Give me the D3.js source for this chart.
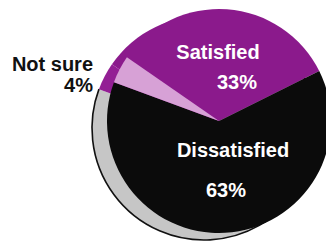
<!DOCTYPE html>
<html lang="en">
<head>
<meta charset="UTF-8">
<title>Satisfaction pie</title>
<script src="https://d3js.org/d3.v7.min.js"></script>
<style>
  body { margin: 0; background: #fff; }
  text { font-family: "Liberation Sans", Arial, sans-serif; font-weight: bold; }
</style>
</head>
<body>
<div id="chart"></div>
<script>
// data
const categories = ["Satisfied", "Dissatisfied", "Not sure"];
const values = [33, 63, 4];
const valueLabels = ["33%", "63%", "4%"];

const width = 326, height = 243;
const cx = 219, cy = 121, r = 112;
// offset of the pie's visible side (3D thickness)
const side = { dx: -15, dy: 7 };

const topColors = { "Satisfied": "#8b1a8c", "Dissatisfied": "#0b0b0b", "Not sure": "#d7a1d6" };
const sideColors = { "Satisfied": "#8b1a8c", "Dissatisfied": "#c6c6c6", "Not sure": "#931f94" };

const svg = d3.select("#chart").append("svg")
  .attr("width", width)
  .attr("height", height);

const table = categories.map((c, i) => ({ name: c, value: values[i], label: valueLabels[i] }));

const pie = d3.pie()
  .sort(null)
  .value(d => d.value)
  .startAngle(-55.3 * Math.PI / 180)
  .endAngle((360 - 55.3) * Math.PI / 180);

const arcs = pie(table);
const arc = d3.arc().innerRadius(0).outerRadius(r);
const rim = d3.arc().innerRadius(r).outerRadius(r);

// side of the pie (drawn first, shifted down-left)
const sideG = svg.append("g")
  .attr("transform", `translate(${cx + side.dx},${cy + side.dy})`);

sideG.selectAll("path.side")
  .data(arcs)
  .join("path")
  .attr("class", "side")
  .attr("d", arc)
  .attr("fill", d => sideColors[d.data.name]);

sideG.selectAll("path.rim")
  .data(arcs.filter(d => d.data.name === "Dissatisfied"))
  .join("path")
  .attr("class", "rim")
  .attr("d", rim)
  .attr("fill", "none")
  .attr("stroke", "#111")
  .attr("stroke-width", 1.6);

// top of the pie
const topG = svg.append("g")
  .attr("transform", `translate(${cx},${cy})`);

topG.selectAll("path.slice")
  .data(arcs)
  .join("path")
  .attr("class", "slice")
  .attr("d", arc)
  .attr("fill", d => topColors[d.data.name]);

// labels (offsets from pie centre)
const labelPos = {
  "Satisfied": { name: [-1, -62], value: [18, -32], anchor: "middle", color: "#fff" },
  "Dissatisfied": { name: [14, 36], value: [7, 76], anchor: "middle", color: "#fff" },
  "Not sure": { name: [-126, -50], value: [-126, -29], anchor: "end", color: "#111" }
};

table.forEach(d => {
  const p = labelPos[d.name];
  topG.append("text")
    .attr("x", p.name[0]).attr("y", p.name[1])
    .attr("text-anchor", p.anchor)
    .attr("font-size", 20)
    .attr("fill", p.color)
    .text(d.name);
  topG.append("text")
    .attr("x", p.value[0]).attr("y", p.value[1])
    .attr("text-anchor", p.anchor)
    .attr("font-size", 20)
    .attr("fill", p.color)
    .text(d.label);
});
</script>
</body>
</html>
